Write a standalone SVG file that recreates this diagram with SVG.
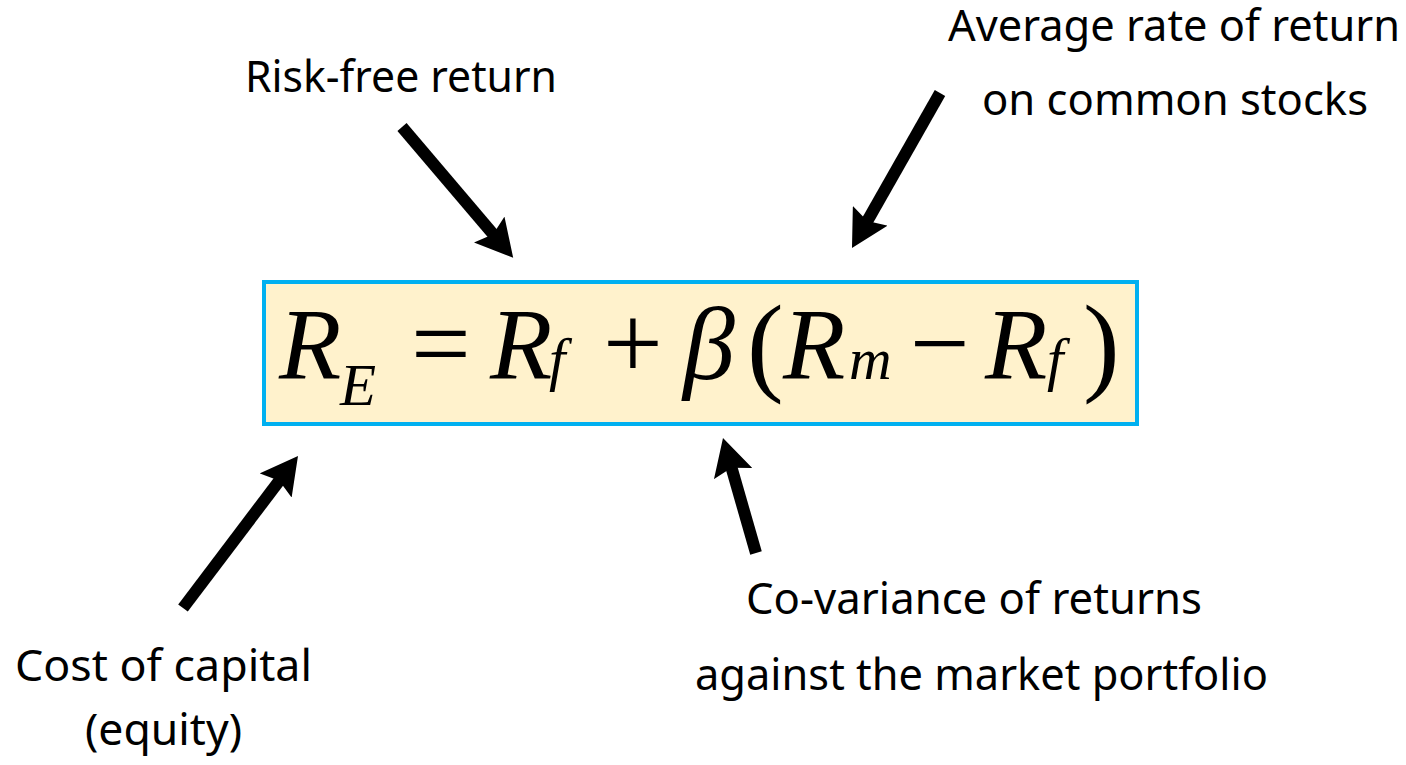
<svg xmlns="http://www.w3.org/2000/svg" width="1406" height="765" viewBox="0 0 1406 765">
  <style>
    .lbl { font-family: "Noto Sans", "Open Sans", "DejaVu Sans", sans-serif; font-size: 43px; fill: #000; }
    .math { font-family: "Liberation Serif", "Times New Roman", serif; fill: #000; }
    .it { font-style: italic; }
    .conn { stroke: #000; stroke-width: 12; fill: none; marker-end: url(#head); }
  </style>
  <defs>
    <marker id="head" markerUnits="userSpaceOnUse" viewBox="0 -20 37 40" markerWidth="37" markerHeight="40" refX="8" refY="0" orient="auto">
      <path d="M0,-20 L37,0 L0,20 L6,0 Z" fill="#000"/>
    </marker>
  </defs>
  <rect width="1406" height="765" fill="#fff"/>

  <g id="formula">
    <rect x="264" y="282" width="873" height="142" fill="#fff2cc" stroke="#00b0f0" stroke-width="4"/>
    <text class="math" font-size="100">
      <tspan class="it" x="279" y="379" font-size="102">R</tspan>
      <tspan class="it" x="340" y="405" font-size="59">E</tspan>
      <tspan x="411" y="379" font-size="106">=</tspan>
      <tspan class="it" x="490" y="379" font-size="102">R</tspan>
      <tspan class="it" x="549" y="379" font-size="59">f</tspan>
      <tspan x="603" y="379" font-size="106">+</tspan>
      <tspan class="it" x="683" y="379" font-size="104">β</tspan>
      <tspan x="747" y="381" font-size="110">(</tspan>
      <tspan class="it" x="783" y="379" font-size="102">R</tspan>
      <tspan class="it" x="849" y="379" font-size="59">m</tspan>
      <tspan x="910" y="379" font-size="106">−</tspan>
      <tspan class="it" x="985" y="379" font-size="102">R</tspan>
      <tspan class="it" x="1047" y="379" font-size="59">f</tspan>
      <tspan x="1083" y="381" font-size="110">)</tspan>
    </text>
  </g>

  <g id="risk-free">
    <text class="lbl" x="245" y="92" textLength="312" lengthAdjust="spacingAndGlyphs">Risk-free return</text>
  </g>
  <g id="average-return">
    <text class="lbl" x="948" y="41" textLength="452" lengthAdjust="spacingAndGlyphs">Average rate of return</text>
    <text class="lbl" x="982" y="115" textLength="386" lengthAdjust="spacingAndGlyphs">on common stocks</text>
  </g>
  <g id="cost-of-capital">
    <text class="lbl" x="15" y="681" textLength="297" lengthAdjust="spacingAndGlyphs">Cost of capital</text>
    <text class="lbl" x="85" y="745" textLength="157" lengthAdjust="spacingAndGlyphs">(equity)</text>
  </g>
  <g id="covariance">
    <text class="lbl" x="746" y="614" textLength="456" lengthAdjust="spacingAndGlyphs">Co-variance of returns</text>
    <text class="lbl" x="695" y="690" textLength="573" lengthAdjust="spacingAndGlyphs">against the market portfolio</text>
  </g>

  <g id="connectors">
    <line class="conn" x1="402" y1="127" x2="494.4" y2="235.7"/>
    <line class="conn" x1="940" y1="93" x2="866.3" y2="222.8"/>
    <line class="conn" x1="183" y1="608" x2="280.5" y2="479.1"/>
    <line class="conn" x1="756" y1="553" x2="731" y2="465.9"/>
  </g>
</svg>
